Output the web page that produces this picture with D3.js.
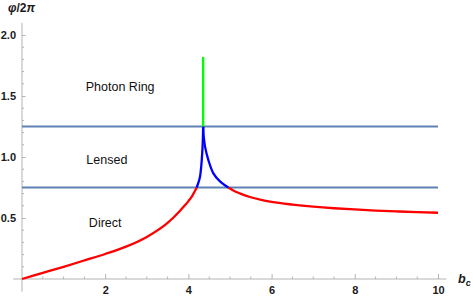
<!DOCTYPE html>
<html><head><meta charset="utf-8">
<script src="https://cdn.jsdelivr.net/npm/d3@7"></script>
<style>
html,body{margin:0;padding:0;background:#fff;}
svg{display:block;font-family:"Liberation Sans",Arial,sans-serif;}
</style></head>
<body>
<script>
// ---- data ----
const directLeftB   = [0, 0.5, 1, 1.5, 2, 2.5, 3, 3.5, 3.8, 3.9, 4.0, 4.1, 4.2];
const directLeftPhi = [0, 0.05, 0.1, 0.152, 0.205, 0.265, 0.345, 0.46, 0.56, 0.598, 0.638, 0.686, 0.75];
const lensedLeftB   = [4.2, 4.25, 4.28, 4.31, 4.33, 4.345, 4.355];
const lensedLeftPhi = [0.75, 0.80, 0.84, 0.93, 1.02, 1.12, 1.25];
const lensedRightB   = [4.355, 4.37, 4.40, 4.48, 4.60, 4.76, 4.96];
const lensedRightPhi = [1.25, 1.16, 1.085, 0.975, 0.866, 0.80, 0.75];
const directRightB   = [4.96, 5.1, 5.25, 5.5, 5.75, 6, 6.5, 7, 7.5, 8, 8.5, 9, 9.5, 10];
const directRightPhi = [0.75, 0.722, 0.70, 0.67, 0.648, 0.632, 0.61, 0.593, 0.58, 0.57, 0.561, 0.554, 0.548, 0.543];
const ringB   = [4.355, 4.355];
const ringPhi = [1.25, 1.82];
const boundaries = [0.75, 1.25];
const regionLabels = ["Photon Ring", "Lensed", "Direct"];
const regionLabelB = [2.36, 2.04, 2.0];
const regionLabelPhi = [1.58, 0.98, 0.46];
const xTicks = [2, 4, 6, 8, 10];
const yTicks = [0.5, 1.0, 1.5, 2.0];

const W = 473, H = 299;
const svg = d3.select("body").append("svg").attr("width", W).attr("height", H);

const x = d3.scaleLinear().domain([0, 10]).range([22, 438]);
const y = d3.scaleLinear().domain([0, 2]).range([279, 35]);

const axisCol = "#b3b3b3";
const g = svg.append("g");

// axis lines (extended like plot range padding)
g.append("line").attr("x1", x(-0.21)).attr("x2", x(10.2)).attr("y1", y(0)).attr("y2", y(0))
  .attr("stroke", axisCol).attr("stroke-width", 1);
g.append("line").attr("x1", x(0)).attr("x2", x(0)).attr("y1", y(-0.104)).attr("y2", y(2.1))
  .attr("stroke", axisCol).attr("stroke-width", 1);

// minor ticks
const xMinor = d3.range(1, 21).map(i => i * 0.5).filter(v => !xTicks.includes(v));
const yMinor = d3.range(1, 21).map(i => +(i * 0.1).toFixed(1)).filter(v => !yTicks.some(t => Math.abs(t - v) < 1e-9));
g.selectAll(".xm").data(xMinor).enter().append("line")
  .attr("x1", d => x(d)).attr("x2", d => x(d)).attr("y1", y(0)).attr("y2", y(0) - 2.5)
  .attr("stroke", axisCol);
g.selectAll(".ym").data(yMinor).enter().append("line")
  .attr("x1", x(0)).attr("x2", x(0) + 2).attr("y1", d => y(d)).attr("y2", d => y(d))
  .attr("stroke", axisCol);

// major axes via d3
const xAxis = d3.axisBottom(x).tickValues(xTicks).tickSizeInner(-5).tickSizeOuter(0).tickPadding(7)
  .tickFormat(d3.format("d"));
const yAxis = d3.axisLeft(y).tickValues(yTicks).tickSizeInner(-3.5).tickSizeOuter(0).tickPadding(6)
  .tickFormat(d3.format(".1f"));
const gx = svg.append("g").attr("transform", `translate(0,${y(0)})`).call(xAxis);
const gy = svg.append("g").attr("transform", `translate(${x(0)},0)`).call(yAxis);
[gx, gy].forEach(a => {
  a.select(".domain").remove();
  a.selectAll(".tick line").attr("stroke", axisCol);
  a.selectAll(".tick text").attr("fill", "#1a1a1a").attr("font-weight", "bold")
    .attr("font-size", 11).attr("font-family", "'Liberation Sans', Arial, sans-serif");
});

// boundaries
svg.selectAll(".bound").data(boundaries).enter().append("line")
  .attr("x1", x(0)).attr("x2", x(10)).attr("y1", d => y(d)).attr("y2", d => y(d))
  .attr("stroke", "#5e81b5").attr("stroke-width", 2);

// curves
const zip = (bs, ps) => bs.map((b, i) => [b, ps[i]]);
const smooth = d3.line().x(d => x(d[0])).y(d => y(d[1])).curve(d3.curveMonotoneX);
const cusp = d3.line().x(d => x(d[0])).y(d => y(d[1])).curve(d3.curveCatmullRom.alpha(0.5));
const series = [
  {pts: zip(directLeftB, directLeftPhi), col: "#ff0000", gen: smooth},
  {pts: zip(directRightB, directRightPhi), col: "#ff0000", gen: smooth},
  {pts: zip(lensedLeftB, lensedLeftPhi), col: "#0000ff", gen: cusp},
  {pts: zip(lensedRightB, lensedRightPhi), col: "#0000ff", gen: cusp},
  {pts: zip(ringB, ringPhi), col: "#00ff00", gen: cusp}
];
svg.selectAll(".curve").data(series).enter().append("path")
  .attr("d", d => d.gen(d.pts)).attr("fill", "none").attr("stroke", d => d.col)
  .attr("stroke-width", 2.3).attr("stroke-linecap", "butt").attr("stroke-linejoin", "round");

// region labels
svg.selectAll(".rl").data(regionLabels).enter().append("text")
  .attr("x", (d, i) => x(regionLabelB[i])).attr("y", (d, i) => y(regionLabelPhi[i]))
  .attr("dy", "0.35em").attr("text-anchor", "middle")
  .attr("font-size", 12.5).attr("fill", "#111").text(d => d);

// axis labels
const yl = svg.append("text").attr("x", 8).attr("y", 12).attr("font-size", 12)
  .attr("font-weight", "bold").attr("fill", "#1a1a1a");
yl.append("tspan").attr("font-style", "italic").text("φ");
yl.append("tspan").text("/2");
yl.append("tspan").attr("font-style", "italic").text("π");

const xl = svg.append("text").attr("x", 458).attr("y", 283).attr("font-size", 12.5)
  .attr("font-weight", "bold").attr("fill", "#1a1a1a");
xl.append("tspan").attr("font-style", "italic").text("b");
xl.append("tspan").attr("font-style", "italic").attr("font-size", 9).attr("dy", 3).text("c");
</script>
</body></html>
